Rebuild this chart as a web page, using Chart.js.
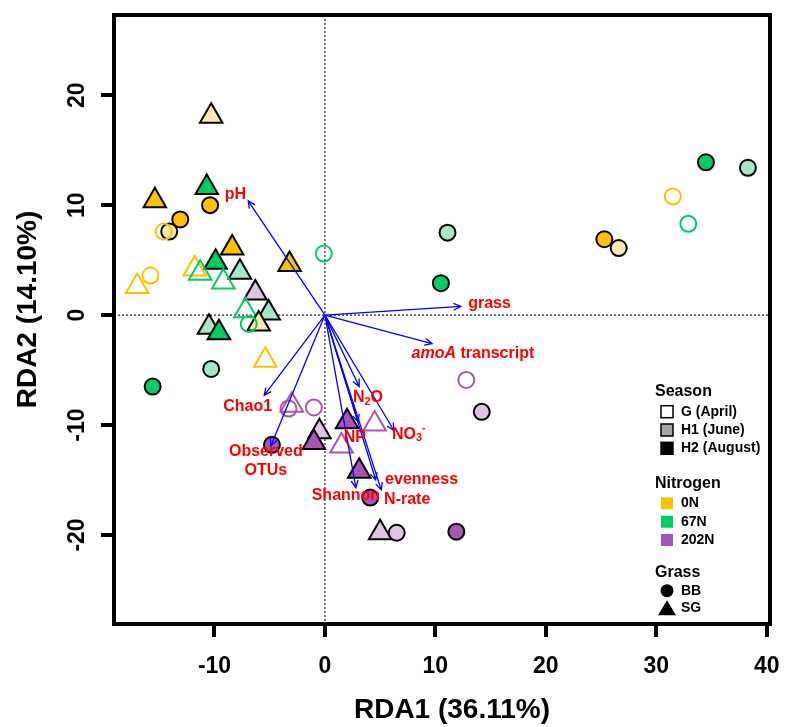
<!DOCTYPE html>
<html>
<head>
<meta charset="utf-8">
<script src="https://cdn.jsdelivr.net/npm/chart.js@4.4.1/dist/chart.umd.min.js"></script>
<style>
  html, body { margin: 0; padding: 0; background: #fff; }
  #wrap { width: 785px; height: 727px; }
</style>
</head>
<body>
<div id="wrap"><canvas id="rda"></canvas></div>
<script>
const FONT = "Arial, 'Liberation Sans', sans-serif";

// ================= DATOS =================
// scores de las muestras (RDA1, RDA2)
const rda1 = [-10.3, -10.7, -15.4, -10.4, -13.1, -14.1, -14.6, -8.4, -9.9, -3.2,
              -0.1, -7.7, -11.8, -11.3, -9.2, -15.8, -17.0, -6.3, -7.2, -5.1,
              -6.0, -6.9, -10.5, -9.6, -5.4, -10.3, -15.6, -3.0, -3.3, -1.0,
              2.0, 4.5, -0.5, -1.0, 1.5, -4.8, 3.1, 4.1, 5.0, 6.5,
              11.9, 12.8, 14.2, 34.5, 38.3, 31.5, 32.9, 25.3, 26.6, 11.1, 10.5];
const rda2 = [18.1, 11.6, 10.4, 10.0, 8.7, 7.6, 7.6, 6.1, 4.8, 4.6,
              5.6, 3.9, 4.2, 3.8, 3.0, 3.6, 2.6, 2.0, 0.4, 0.2,
              -0.8, -0.8, -1.1, -1.6, -4.1, -4.9, -6.5, -8.2, -8.5, -8.4,
              -9.7, -9.9, -10.6, -11.6, -11.9, -11.8, -14.2, -16.6, -19.8, -19.8,
              -19.7, -5.9, -8.8, 13.9, 13.4, 10.8, 8.3, 6.9, 6.1, 7.5, 2.9];
const season = ['H1', 'H2', 'H2', 'H2', 'H2', 'H1', 'G', 'H2', 'H2', 'H2',
                'G', 'H1', 'G', 'G', 'G', 'G', 'G', 'H1', 'G', 'H1',
                'H1', 'G', 'H1', 'H2', 'G', 'H1', 'H2', 'G', 'G', 'G',
                'H2', 'G', 'H1', 'H2', 'G', 'H2', 'H2', 'H2', 'H1', 'H1',
                'H2', 'G', 'H1', 'H2', 'H1', 'G', 'G', 'H2', 'H1', 'H1', 'H2'];
const nitrogen = ['0N', '67N', '0N', '0N', '0N', '0N', '0N', '0N', '67N', '0N',
                  '67N', '67N', '0N', '67N', '67N', '0N', '0N', '202N', '67N', '67N',
                  '0N', '67N', '67N', '67N', '0N', '67N', '67N', '202N', '202N', '202N',
                  '202N', '202N', '202N', '202N', '202N', '202N', '202N', '202N', '202N', '202N',
                  '202N', '202N', '202N', '67N', '67N', '0N', '67N', '0N', '0N', '67N', '67N'];
const grass = ['SG', 'SG', 'SG', 'BB', 'BB', 'BB', 'BB', 'SG', 'SG', 'SG',
               'BB', 'SG', 'SG', 'SG', 'SG', 'BB', 'SG', 'SG', 'SG', 'SG',
               'SG', 'BB', 'SG', 'SG', 'SG', 'BB', 'BB', 'SG', 'BB', 'BB',
               'SG', 'SG', 'SG', 'SG', 'SG', 'BB', 'SG', 'BB', 'SG', 'BB',
               'BB', 'BB', 'BB', 'BB', 'BB', 'BB', 'BB', 'BB', 'BB', 'BB', 'BB'];

// vectores ambientales (punta de la flecha) y posicion de su etiqueta
const vecNames = ['pH', 'grass', 'amoA transcript', 'Chao1', 'Observed OTUs', 'N2O',
                  'NP', 'NO3-', 'Shannon', 'evenness', 'N-rate'];
const vecX = [-6.95, 12.3, 9.7, -5.5, -4.9, 3.1, 3.0, 6.25, 2.8, 4.6, 5.1];
const vecY = [10.4, 0.8, -2.6, -7.3, -11.9, -6.5, -9.7, -10.5, -15.7, -15.0, -15.9];
const labX = [-8.1, 14.9, 13.4, -7.0, -5.35, 3.9, 2.7, 7.6, 1.9, 8.75, 7.45];
const labY = [11.0, 1.05, -3.5, -8.3, -13.3, -7.5, -11.1, -10.85, -16.4, -15.0, -16.8];

const xTicks = [-10, 0, 10, 20, 30, 40];
const yTicks = [-20, -10, 0, 10, 20];
const xTitle = 'RDA1 (36.11%)';
const yTitle = 'RDA2 (14.10%)';

const seasonLabels = ['G (April)', 'H1 (June)', 'H2 (August)'];
const nitrogenLabels = ['0N', '67N', '202N'];
const grassLabels = ['BB', 'SG'];

const colorN = { '0N': '#FFC000', '67N': '#00CC66', '202N': '#A855B5' };
const colorClaro = { '0N': '#FFE9B3', '67N': '#A8E6C8', '202N': '#DFC3E3' };

// ================= HELPERS =================
function puntos(g) {
    const out = [];
    rda1.forEach((x, i) => {
        if (grass[i] === g) out.push({ x, y: rda2[i], s: season[i], n: nitrogen[i] });
    });
    return out;
}
const relleno = c => c.raw.s === 'G' ? 'rgba(0,0,0,0)' : (c.raw.s === 'H1' ? colorClaro[c.raw.n] : colorN[c.raw.n]);
const borde = c => c.raw.s === 'G' ? colorN[c.raw.n] : '#000';

function partes(nombre) {
    const b = 'bold', bi = 'italic bold';
    switch (nombre) {
        case 'amoA transcript': return [[['amoA', 16, bi, 0], [' transcript', 16, b, 0]]];
        case 'N2O': return [[['N', 16, b, 0], ['2', 11, b, 4], ['O', 16, b, 0]]];
        case 'NO3-': return [[['NO', 16, b, 0], ['3', 11, b, 4], ['-', 11, b, -6]]];
        case 'Observed OTUs': return [[['Observed', 16, b, 0]], [['OTUs', 16, b, 0]]];
        default: return [[[nombre, 16, b, 0]]];
    }
}

function textoRico(ctx, lineas, cx, cy) {
    const lh = 19;
    const y0 = cy - (lineas.length - 1) * lh / 2;
    lineas.forEach((segs, k) => {
        let w = 0;
        segs.forEach(p => { ctx.font = `${p[2]} ${p[1]}px ${FONT}`; w += ctx.measureText(p[0]).width; });
        let x = cx - w / 2;
        segs.forEach(p => {
            ctx.font = `${p[2]} ${p[1]}px ${FONT}`;
            ctx.fillText(p[0], x, y0 + k * lh + p[3]);
            x += ctx.measureText(p[0]).width;
        });
    });
}

function flecha(ctx, x0, y0, x1, y1) {
    const a = Math.atan2(y1 - y0, x1 - x0), L = 8, w = Math.PI / 7;
    ctx.beginPath();
    ctx.moveTo(x0, y0);
    ctx.lineTo(x1, y1);
    ctx.moveTo(x1 - L * Math.cos(a - w), y1 - L * Math.sin(a - w));
    ctx.lineTo(x1, y1);
    ctx.lineTo(x1 - L * Math.cos(a + w), y1 - L * Math.sin(a + w));
    ctx.stroke();
}

// sin relleno extra por etiquetas que sobresalen
function sinPadding(s) {
    s.paddingLeft = 0; s.paddingRight = 0; s.paddingTop = 0; s.paddingBottom = 0;
}

// ================= PLUGIN: ejes, flechas y leyenda =================
const biplot = {
    id: 'biplot',
    beforeDatasetsDraw(chart) {
        const { ctx, chartArea: a, scales: { x, y } } = chart;
        ctx.save();
        ctx.strokeStyle = '#222';
        ctx.lineWidth = 1.2;
        ctx.setLineDash([2, 2]);
        ctx.beginPath();
        ctx.moveTo(a.left, y.getPixelForValue(0));
        ctx.lineTo(a.right, y.getPixelForValue(0));
        ctx.moveTo(x.getPixelForValue(0), a.top);
        ctx.lineTo(x.getPixelForValue(0), a.bottom);
        ctx.stroke();
        ctx.restore();
    },
    afterDatasetsDraw(chart) {
        const { ctx, scales: { x, y } } = chart;
        const ox = x.getPixelForValue(0), oy = y.getPixelForValue(0);
        ctx.save();
        ctx.strokeStyle = '#0000FF';
        ctx.lineWidth = 1.3;
        vecNames.forEach((n, i) => flecha(ctx, ox, oy, x.getPixelForValue(vecX[i]), y.getPixelForValue(vecY[i])));
        ctx.fillStyle = '#FF0000';
        ctx.textBaseline = 'middle';
        ctx.textAlign = 'left';
        vecNames.forEach((n, i) => textoRico(ctx, partes(n), x.getPixelForValue(labX[i]), y.getPixelForValue(labY[i])));
        ctx.restore();
    },
    afterDraw(chart) {
        const { ctx, chartArea: a } = chart;
        ctx.save();
        // marco
        ctx.strokeStyle = '#000';
        ctx.lineWidth = 4;
        ctx.strokeRect(a.left, a.top, a.right - a.left, a.bottom - a.top);

        // titulos de ejes
        ctx.fillStyle = '#000';
        ctx.textAlign = 'center';
        ctx.textBaseline = 'middle';
        ctx.font = `bold 28px ${FONT}`;
        ctx.fillText(xTitle, (a.left + a.right) / 2 + 10, 710);
        ctx.save();
        ctx.translate(28, (a.top + a.bottom) / 2 - 10);
        ctx.rotate(-Math.PI / 2);
        ctx.fillText(yTitle, 0, 0);
        ctx.restore();

        // leyenda
        const tx = 655, ix = 681, sx = 667;
        ctx.textAlign = 'left';
        ctx.font = `bold 16px ${FONT}`;
        ctx.fillText('Season', tx, 392);
        ctx.fillText('Nitrogen', tx, 484);
        ctx.fillText('Grass', tx, 573);

        ctx.font = `bold 14px ${FONT}`;
        const sFill = ['#FFFFFF', '#A6A6A6', '#000000'];
        const sY = [411.7, 430, 448.3];
        seasonLabels.forEach((t, i) => {
            ctx.fillStyle = sFill[i];
            ctx.fillRect(sx - 6, sY[i] - 6, 12, 12);
            ctx.strokeStyle = '#000';
            ctx.lineWidth = 1.5;
            ctx.strokeRect(sx - 6, sY[i] - 6, 12, 12);
            ctx.fillStyle = '#000';
            ctx.fillText(t, ix, sY[i]);
        });
        const nY = [503.3, 521.7, 540];
        nitrogenLabels.forEach((t, i) => {
            ctx.fillStyle = colorN[t];
            ctx.fillRect(sx - 6, nY[i] - 6, 12, 12);
            ctx.fillStyle = '#000';
            ctx.fillText(t, ix, nY[i]);
        });
        const gY = [590.7, 608.3];
        ctx.beginPath();
        ctx.arc(sx, gY[0], 6.5, 0, Math.PI * 2);
        ctx.fill();
        ctx.beginPath();
        ctx.moveTo(sx, gY[1] - 8);
        ctx.lineTo(sx + 9, gY[1] + 7);
        ctx.lineTo(sx - 9, gY[1] + 7);
        ctx.closePath();
        ctx.fill();
        grassLabels.forEach((t, i) => ctx.fillText(t, ix, gY[i]));
        ctx.restore();
    }
};

// ================= CHART =================
const tickFont = { family: FONT, size: 23, weight: 'bold' };

new Chart(document.getElementById('rda'), {
    type: 'scatter',
    data: {
        datasets: [
            {
                label: 'SG', data: puntos('SG'), pointStyle: 'triangle', pointRadius: 13,
                pointBorderWidth: 2, pointBackgroundColor: relleno, pointBorderColor: borde, order: 2
            },
            {
                label: 'BB', data: puntos('BB'), pointStyle: 'circle', pointRadius: 8,
                pointBorderWidth: 2, pointBackgroundColor: relleno, pointBorderColor: borde, order: 1
            }
        ]
    },
    options: {
        responsive: true,
        maintainAspectRatio: false,
        animation: false,
        events: [],
        layout: { padding: { left: 0, right: 14, top: 12, bottom: 0 } },
        plugins: { legend: { display: false }, tooltip: { enabled: false } },
        scales: {
            x: {
                type: 'linear', min: -19.1, max: 40.3,
                afterBuildTicks: s => { s.ticks = xTicks.map(v => ({ value: v })); },
                afterFit: s => { s.height = 103; sinPadding(s); },
                ticks: { font: tickFont, color: '#000', padding: 16, maxRotation: 0 },
                grid: { drawOnChartArea: false, drawTicks: true, tickLength: 13, lineWidth: 4, color: '#000' },
                border: { display: false }
            },
            y: {
                type: 'linear', min: -28.1, max: 27.3,
                afterBuildTicks: s => { s.ticks = yTicks.map(v => ({ value: v })); },
                afterFit: s => { s.width = 114; sinPadding(s); },
                ticks: { font: tickFont, color: '#000', padding: 7, minRotation: 90, maxRotation: 90, crossAlign: 'center' },
                grid: { drawOnChartArea: false, drawTicks: true, tickLength: 13, lineWidth: 4, color: '#000' },
                border: { display: false }
            }
        }
    },
    plugins: [biplot]
});
</script>
</body>
</html>
